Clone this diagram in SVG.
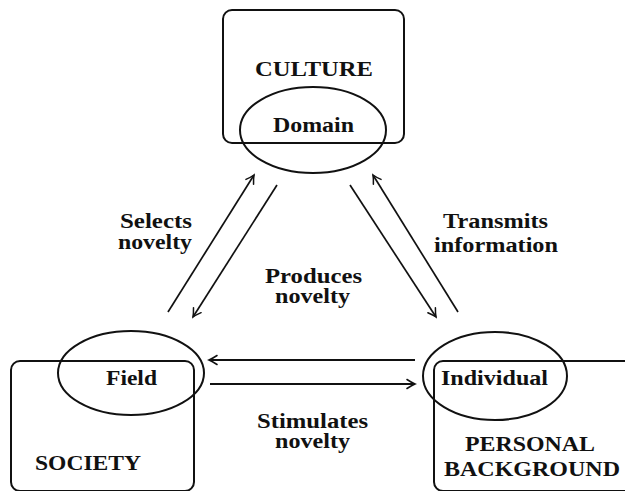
<svg xmlns="http://www.w3.org/2000/svg" width="625" height="491" viewBox="0 0 625 491">
<style>
.box{fill:none;stroke:#111;stroke-width:2}
.ell{fill:none;stroke:#111;stroke-width:2}
.t{font-family:"Liberation Serif","DejaVu Serif",serif;font-weight:bold;font-size:20.5px;fill:#111;text-anchor:middle}
.c{stroke:#111;stroke-width:1.7;fill:none;marker-end:url(#ah)}
</style>
<defs>
<marker id="ah" markerUnits="userSpaceOnUse" viewBox="-10 -6 12 12" refX="0" refY="0" markerWidth="12" markerHeight="12" orient="auto">
<path d="M-8 -4.5 Q-3 -1.2 0 0 Q-3 1.2 -8 4.5" fill="none" stroke="#111" stroke-width="1.5" stroke-linecap="round"/>
</marker>
</defs>
<rect width="625" height="491" fill="#fff"/>
<g id="culture">
<rect class="box" x="223" y="10" width="181" height="133" rx="9"/>
<text class="t" x="314" y="76" textLength="118" lengthAdjust="spacingAndGlyphs">CULTURE</text>
</g>
<g id="domain">
<ellipse class="ell" cx="313" cy="130" rx="73" ry="43"/>
<text class="t" x="313.5" y="132" textLength="81" lengthAdjust="spacingAndGlyphs">Domain</text>
</g>
<g id="society">
<rect class="box" x="11" y="361" width="183" height="130" rx="9"/>
<text class="t" x="88" y="470" textLength="106" lengthAdjust="spacingAndGlyphs">SOCIETY</text>
</g>
<g id="field">
<ellipse class="ell" cx="131" cy="373" rx="73" ry="42"/>
<text class="t" x="131.5" y="385" textLength="51" lengthAdjust="spacingAndGlyphs">Field</text>
</g>
<g id="personal">
<rect class="box" x="434" y="361" width="220" height="130" rx="9"/>
<text class="t" x="530" y="451" textLength="130" lengthAdjust="spacingAndGlyphs">PERSONAL</text>
<text class="t" x="532" y="476" textLength="176" lengthAdjust="spacingAndGlyphs">BACKGROUND</text>
</g>
<g id="individual">
<ellipse class="ell" cx="495" cy="376" rx="72" ry="44"/>
<text class="t" x="494.5" y="385" textLength="107" lengthAdjust="spacingAndGlyphs">Individual</text>
</g>
<g id="connectors">
<line class="c" x1="168" y1="312" x2="254" y2="175"/>
<line class="c" x1="277" y1="185" x2="193" y2="317"/>
<line class="c" x1="350" y1="185" x2="436" y2="317"/>
<line class="c" x1="458" y1="312" x2="373" y2="175"/>
<line class="c" x1="415" y1="360" x2="209" y2="360" style="stroke-width:2"/>
<line class="c" x1="210" y1="384" x2="415" y2="384" style="stroke-width:2"/>
</g>
<g id="labels">
<text class="t" x="156" y="228" textLength="72" lengthAdjust="spacingAndGlyphs">Selects</text>
<text class="t" x="155" y="249" textLength="74" lengthAdjust="spacingAndGlyphs">novelty</text>
<text class="t" x="495.5" y="228" textLength="105" lengthAdjust="spacingAndGlyphs">Transmits</text>
<text class="t" x="496" y="252" textLength="124" lengthAdjust="spacingAndGlyphs">information</text>
<text class="t" x="313.5" y="283" textLength="97" lengthAdjust="spacingAndGlyphs">Produces</text>
<text class="t" x="312.5" y="303" textLength="75" lengthAdjust="spacingAndGlyphs">novelty</text>
<text class="t" x="312.5" y="428" textLength="111" lengthAdjust="spacingAndGlyphs">Stimulates</text>
<text class="t" x="312.5" y="448" textLength="75" lengthAdjust="spacingAndGlyphs">novelty</text>
</g>
</svg>
